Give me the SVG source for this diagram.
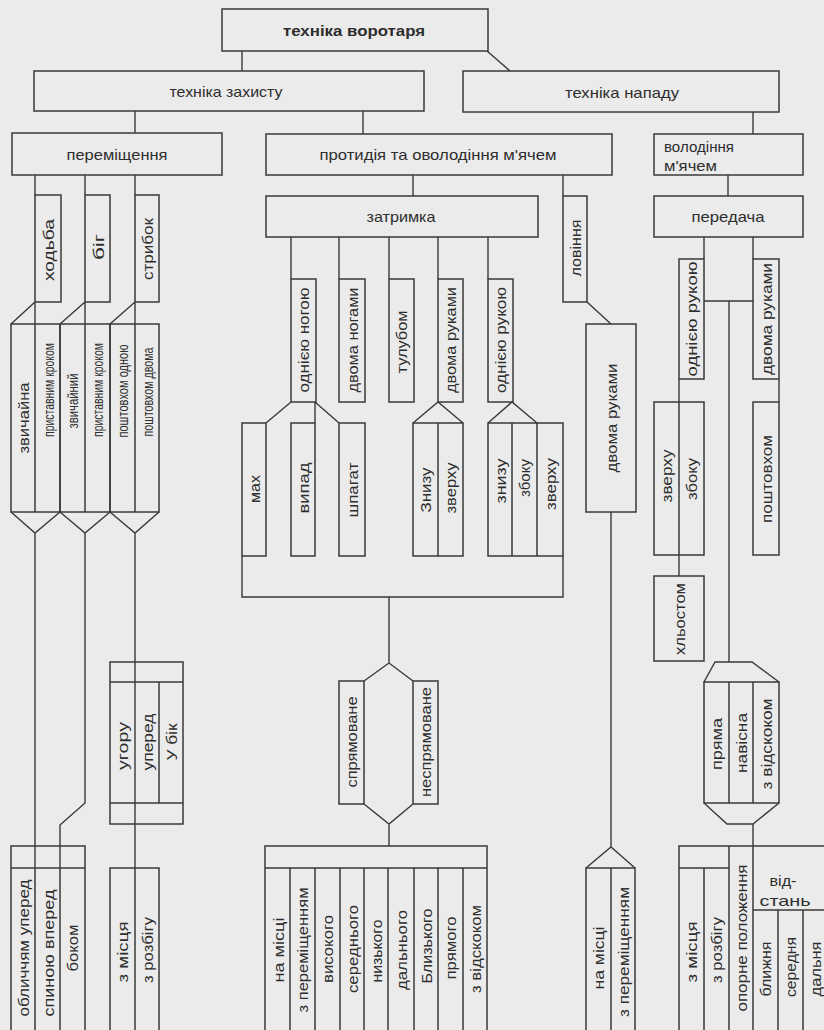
<svg xmlns="http://www.w3.org/2000/svg" width="824" height="1030" viewBox="0 0 824 1030">
<style>
.b{fill:none;stroke:#3a3a3a;stroke-width:1.5}
.c{fill:none;stroke:#3a3a3a;stroke-width:1.4}
text{font-family:"Liberation Sans",Arial,sans-serif;font-size:15px;fill:#2e2e2e}
.h{text-anchor:middle;dominant-baseline:central}
.l{text-anchor:start;dominant-baseline:central}
.v{text-anchor:middle;dominant-baseline:central}
.bold{font-weight:bold}
</style>
<rect x="0" y="0" width="824" height="1030" fill="#ebebeb"/>

<g id="connectors" class="c">
<path d="M242 51V71 M487 51L510 71 M135 111V133 M363 111V134 M753 112V134 M728 175V196 M413 175V196 M563 175V196"/>
<path d="M35 175V195 M85 175V195 M135 175V195"/>
<path d="M35 302V324 M11 324L35 302 M85 302V324 M60 324L85 302 M135 302V324 M110 324L135 302"/>
<path d="M11 512L35 533L60 512 M35 533V868 M60 512L85 533L110 512 M85 533V803L60 825V868 M110 512L135 533L159 512 M135 533V868"/>
<path d="M291 237V279 M339 237V279 M389 237V279 M438 237V279 M488 237V279"/>
<path d="M291 402L266 423 M315 402V423 M315 402L339 423 M413 423L438 402L463 423 M488 423L512 402L537 423"/>
<path d="M242 556V597H563V556 M389 597V663 M364 681L389 663L413 681 M364 804L389 824L413 804 M389 824V846"/>
<path d="M587 302L611 324 M611 512V847 M586 868L611 847L635 868"/>
<path d="M704 237V259 M753 237V259 M704 301H753 M729 301V662 M704 682L715 662H752L779 682 M679 379V402 M779 379V402 M679 555V576 M704 803L727 824H753L779 803 M753 824V846"/>
</g>

<g id="n-tekhnika-vorotaria"><rect class="b" x="222" y="9" width="266" height="42"/><text class="h bold" x="354" y="30" textLength="142" lengthAdjust="spacingAndGlyphs">техніка воротаря</text></g>
<g id="n-tekhnika-zakhystu"><rect class="b" x="34" y="71" width="390" height="40"/><text class="h" x="226" y="91" textLength="113" lengthAdjust="spacingAndGlyphs">техніка захисту</text></g>
<g id="n-tekhnika-napadu"><rect class="b" x="463" y="71" width="316" height="41"/><text class="h" x="622" y="92" textLength="114" lengthAdjust="spacingAndGlyphs">техніка нападу</text></g>
<g id="n-peremishchennia"><rect class="b" x="12" y="133" width="210" height="42"/><text class="h" x="117" y="154" textLength="101" lengthAdjust="spacingAndGlyphs">переміщення</text></g>
<g id="n-protydiia"><rect class="b" x="266" y="134" width="346" height="41"/><text class="h" x="438" y="154" textLength="237" lengthAdjust="spacingAndGlyphs">протидія та оволодіння м'ячем</text></g>
<g id="n-zatrymka"><rect class="b" x="266" y="196" width="272" height="41"/><text class="h" x="401" y="216" textLength="69" lengthAdjust="spacingAndGlyphs">затримка</text></g>
<g id="n-volodinnia"><rect class="b" x="654" y="134" width="149" height="41"/><text class="l" x="664" y="146" textLength="70" lengthAdjust="spacingAndGlyphs">володіння</text><text class="l" x="664" y="165" textLength="53" lengthAdjust="spacingAndGlyphs">м'ячем</text></g>
<g id="n-peredacha"><rect class="b" x="654" y="196" width="149" height="41"/><text class="h" x="728" y="216" textLength="73" lengthAdjust="spacingAndGlyphs">передача</text></g>

<g id="n-khodba"><rect class="b" x="35" y="195" width="26" height="107"/><text class="v" transform="translate(48,250) rotate(-90)" textLength="62" lengthAdjust="spacingAndGlyphs">ходьба</text></g>
<g id="n-bih"><rect class="b" x="85" y="195" width="25" height="107"/><text class="v" transform="translate(98,247) rotate(-90)" textLength="26" lengthAdjust="spacingAndGlyphs">біг</text></g>
<g id="n-strybok"><rect class="b" x="135" y="195" width="24" height="107"/><text class="v" transform="translate(147,249) rotate(-90)" textLength="62" lengthAdjust="spacingAndGlyphs">стрибок</text></g>

<g id="n-khodba-vydy"><rect class="b" x="11" y="324" width="49" height="188"/><path class="b" d="M35 324V512"/>
<text class="v" transform="translate(23,418) rotate(-90)" textLength="71" lengthAdjust="spacingAndGlyphs">звичайна</text>
<text class="v" transform="translate(48,390) rotate(-90)" textLength="94" lengthAdjust="spacingAndGlyphs">приставним кроком</text></g>
<g id="n-bih-vydy"><rect class="b" x="60" y="324" width="50" height="188"/><path class="b" d="M85 324V512"/>
<text class="v" transform="translate(72,401) rotate(-90)" textLength="55" lengthAdjust="spacingAndGlyphs">звичайний</text>
<text class="v" transform="translate(97,390) rotate(-90)" textLength="94" lengthAdjust="spacingAndGlyphs">приставним кроком</text></g>
<g id="n-strybok-vydy"><rect class="b" x="110" y="324" width="49" height="188"/><path class="b" d="M135 324V512"/>
<text class="v" transform="translate(122,391) rotate(-90)" textLength="93" lengthAdjust="spacingAndGlyphs">поштовхом одною</text>
<text class="v" transform="translate(147,392) rotate(-90)" textLength="89" lengthAdjust="spacingAndGlyphs">поштовхом двома</text></g>

<g id="n-napriamok"><rect class="b" x="110" y="662" width="73" height="162"/><path class="b" d="M110 682H183 M110 803H183 M159 682V803"/>
<text class="v" transform="translate(122,746) rotate(-90)" textLength="48" lengthAdjust="spacingAndGlyphs">угору</text>
<text class="v" transform="translate(147,742) rotate(-90)" textLength="57" lengthAdjust="spacingAndGlyphs">уперед</text>
<text class="v" transform="translate(171,742) rotate(-90)" textLength="37" lengthAdjust="spacingAndGlyphs">У бік</text></g>

<g id="n-khodba-sposoby"><rect class="b" x="11" y="846" width="74" height="190"/><path class="b" d="M11 868H85 M35 868V1036 M60 868V1036"/>
<text class="v" transform="translate(23,948) rotate(-90)" textLength="137" lengthAdjust="spacingAndGlyphs">обличчям уперед</text>
<text class="v" transform="translate(48,953) rotate(-90)" textLength="127" lengthAdjust="spacingAndGlyphs">спиною вперед</text>
<text class="v" transform="translate(72,948) rotate(-90)" textLength="47" lengthAdjust="spacingAndGlyphs">боком</text></g>
<g id="n-strybok-start"><rect class="b" x="110" y="868" width="49" height="168"/><path class="b" d="M135 868V1036"/>
<text class="v" transform="translate(122,952) rotate(-90)" textLength="61" lengthAdjust="spacingAndGlyphs">з місця</text>
<text class="v" transform="translate(147,950) rotate(-90)" textLength="66" lengthAdjust="spacingAndGlyphs">з розбігу</text></g>

<g id="n-odniieiu-nohoiu"><rect class="b" x="291" y="279" width="25" height="123"/><text class="v" transform="translate(303,340) rotate(-90)" textLength="105" lengthAdjust="spacingAndGlyphs">однією ногою</text></g>
<g id="n-dvoma-nohamy"><rect class="b" x="339" y="279" width="26" height="123"/><text class="v" transform="translate(352,340) rotate(-90)" textLength="105" lengthAdjust="spacingAndGlyphs">двома ногами</text></g>
<g id="n-tulubom"><rect class="b" x="389" y="279" width="25" height="123"/><text class="v" transform="translate(401,342) rotate(-90)" textLength="63" lengthAdjust="spacingAndGlyphs">тулубом</text></g>
<g id="n-dvoma-rukamy-z"><rect class="b" x="438" y="279" width="25" height="123"/><text class="v" transform="translate(450,340) rotate(-90)" textLength="106" lengthAdjust="spacingAndGlyphs">двома руками</text></g>
<g id="n-odniieiu-rukoiu-z"><rect class="b" x="488" y="279" width="25" height="123"/><text class="v" transform="translate(500,340) rotate(-90)" textLength="106" lengthAdjust="spacingAndGlyphs">однією рукою</text></g>

<g id="n-makh"><rect class="b" x="242" y="423" width="24" height="133"/><text class="v" transform="translate(254,489) rotate(-90)" textLength="28" lengthAdjust="spacingAndGlyphs">мах</text></g>
<g id="n-vypad"><rect class="b" x="291" y="423" width="24" height="133"/><text class="v" transform="translate(303,488) rotate(-90)" textLength="51" lengthAdjust="spacingAndGlyphs">випад</text></g>
<g id="n-shpahat"><rect class="b" x="339" y="423" width="26" height="133"/><text class="v" transform="translate(352,490) rotate(-90)" textLength="55" lengthAdjust="spacingAndGlyphs">шпагат</text></g>
<g id="n-dvoma-rukamy-vydy"><rect class="b" x="413" y="423" width="50" height="133"/><path class="b" d="M438 423V556"/>
<text class="v" transform="translate(425,490) rotate(-90)" textLength="45" lengthAdjust="spacingAndGlyphs">Знизу</text>
<text class="v" transform="translate(450,488) rotate(-90)" textLength="51" lengthAdjust="spacingAndGlyphs">зверху</text></g>
<g id="n-odniieiu-rukoiu-vydy"><rect class="b" x="488" y="423" width="75" height="133"/><path class="b" d="M512 423V556 M537 423V556"/>
<text class="v" transform="translate(500,481) rotate(-90)" textLength="45" lengthAdjust="spacingAndGlyphs">знизу</text>
<text class="v" transform="translate(524,478) rotate(-90)" textLength="38" lengthAdjust="spacingAndGlyphs">збоку</text>
<text class="v" transform="translate(550,484) rotate(-90)" textLength="52" lengthAdjust="spacingAndGlyphs">зверху</text></g>

<g id="n-spriamovane"><rect class="b" x="339" y="681" width="25" height="123"/><text class="v" transform="translate(351,742) rotate(-90)" textLength="91" lengthAdjust="spacingAndGlyphs">спрямоване</text></g>
<g id="n-nespriamovane"><rect class="b" x="413" y="681" width="25" height="123"/><text class="v" transform="translate(425,742) rotate(-90)" textLength="110" lengthAdjust="spacingAndGlyphs">неспрямоване</text></g>

<g id="n-zatrymka-umovy"><rect class="b" x="265" y="846" width="222" height="190"/><path class="b" d="M265 868H487 M290 868V1036 M315 868V1036 M340 868V1036 M364 868V1036 M388 868V1036 M414 868V1036 M438 868V1036 M463 868V1036"/>
<text class="v" transform="translate(278,950) rotate(-90)" textLength="65" lengthAdjust="spacingAndGlyphs">на місці</text>
<text class="v" transform="translate(302,950) rotate(-90)" textLength="125" lengthAdjust="spacingAndGlyphs">з переміщенням</text>
<text class="v" transform="translate(327,949) rotate(-90)" textLength="68" lengthAdjust="spacingAndGlyphs">високого</text>
<text class="v" transform="translate(352,949) rotate(-90)" textLength="88" lengthAdjust="spacingAndGlyphs">середнього</text>
<text class="v" transform="translate(376,951) rotate(-90)" textLength="63" lengthAdjust="spacingAndGlyphs">низького</text>
<text class="v" transform="translate(401,950) rotate(-90)" textLength="80" lengthAdjust="spacingAndGlyphs">дальнього</text>
<text class="v" transform="translate(426,946) rotate(-90)" textLength="75" lengthAdjust="spacingAndGlyphs">Близького</text>
<text class="v" transform="translate(450,948) rotate(-90)" textLength="63" lengthAdjust="spacingAndGlyphs">прямого</text>
<text class="v" transform="translate(475,949) rotate(-90)" textLength="88" lengthAdjust="spacingAndGlyphs">з відскоком</text></g>

<g id="n-lovinnia"><rect class="b" x="563" y="196" width="24" height="106"/><text class="v" transform="translate(575,248) rotate(-90)" textLength="57" lengthAdjust="spacingAndGlyphs">ловіння</text></g>
<g id="n-lovinnia-dvoma"><rect class="b" x="586" y="324" width="50" height="188"/><text class="v" transform="translate(611,418) rotate(-90)" textLength="109" lengthAdjust="spacingAndGlyphs">двома руками</text></g>
<g id="n-lovinnia-umovy"><rect class="b" x="586" y="868" width="49" height="168"/><path class="b" d="M611 868V1036"/>
<text class="v" transform="translate(598,958) rotate(-90)" textLength="63" lengthAdjust="spacingAndGlyphs">на місці</text>
<text class="v" transform="translate(623,952) rotate(-90)" textLength="130" lengthAdjust="spacingAndGlyphs">з переміщенням</text></g>

<g id="n-peredacha-odniieiu"><rect class="b" x="679" y="259" width="25" height="120"/><text class="v" transform="translate(691,319) rotate(-90)" textLength="115" lengthAdjust="spacingAndGlyphs">однією рукою</text></g>
<g id="n-peredacha-dvoma"><rect class="b" x="753" y="259" width="26" height="120"/><text class="v" transform="translate(766,319) rotate(-90)" textLength="112" lengthAdjust="spacingAndGlyphs">двома руками</text></g>
<g id="n-peredacha-odniieiu-vydy"><rect class="b" x="654" y="402" width="50" height="153"/><path class="b" d="M679 402V555"/>
<text class="v" transform="translate(666,476) rotate(-90)" textLength="53" lengthAdjust="spacingAndGlyphs">зверху</text>
<text class="v" transform="translate(691,479) rotate(-90)" textLength="42" lengthAdjust="spacingAndGlyphs">збоку</text></g>
<g id="n-poshtovkhom"><rect class="b" x="753" y="402" width="26" height="153"/><text class="v" transform="translate(766,479) rotate(-90)" textLength="88" lengthAdjust="spacingAndGlyphs">поштовхом</text></g>
<g id="n-khlostom"><rect class="b" x="654" y="576" width="50" height="85"/><text class="v" transform="translate(679,619) rotate(-90)" textLength="72" lengthAdjust="spacingAndGlyphs">хльостом</text></g>
<g id="n-peredacha-vydy"><rect class="b" x="704" y="682" width="75" height="121"/><path class="b" d="M729 682V803 M753 682V803"/>
<text class="v" transform="translate(716,744) rotate(-90)" textLength="52" lengthAdjust="spacingAndGlyphs">пряма</text>
<text class="v" transform="translate(741,743) rotate(-90)" textLength="60" lengthAdjust="spacingAndGlyphs">навісна</text>
<text class="v" transform="translate(766,744) rotate(-90)" textLength="91" lengthAdjust="spacingAndGlyphs">з відскоком</text></g>
<g id="n-peredacha-umovy"><rect class="b" x="679" y="846" width="151" height="190"/><path class="b" d="M679 868H729 M704 868V1036 M729 846V1036 M753 846V1036 M753 910H830 M778 910V1036 M803 910V1036"/>
<text class="v" transform="translate(691,952) rotate(-90)" textLength="61" lengthAdjust="spacingAndGlyphs">з місця</text>
<text class="v" transform="translate(716,950) rotate(-90)" textLength="66" lengthAdjust="spacingAndGlyphs">з розбігу</text>
<text class="v" transform="translate(741,938) rotate(-90)" textLength="147" lengthAdjust="spacingAndGlyphs">опорне положення</text>
<text class="h" x="783" y="880" textLength="27" lengthAdjust="spacingAndGlyphs">від-</text>
<text class="h" x="785" y="900" textLength="51" lengthAdjust="spacingAndGlyphs">стань</text>
<text class="v" transform="translate(765,969) rotate(-90)" textLength="55" lengthAdjust="spacingAndGlyphs">ближня</text>
<text class="v" transform="translate(790,967) rotate(-90)" textLength="60" lengthAdjust="spacingAndGlyphs">середня</text>
<text class="v" transform="translate(815,969) rotate(-90)" textLength="55" lengthAdjust="spacingAndGlyphs">дальня</text></g>
</svg>
